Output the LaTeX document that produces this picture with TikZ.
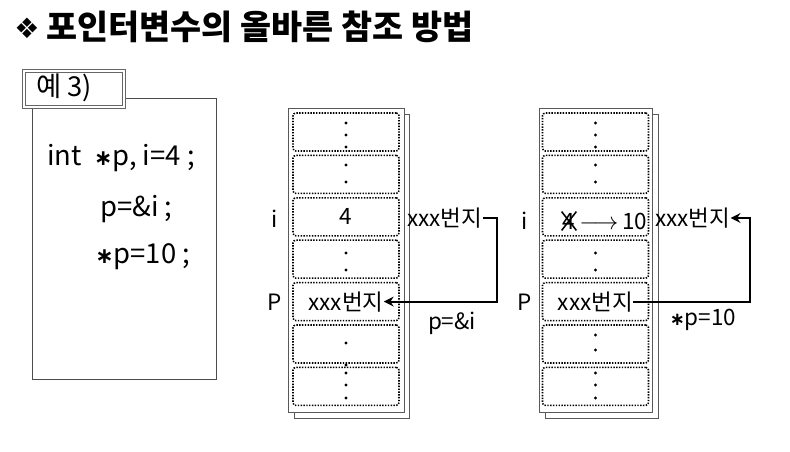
\documentclass[tikz,border=0pt]{standalone}
\usepackage{fontspec}
\setmainfont{Noto Sans CJK KR}
\newfontfamily\symfont{DejaVu Sans}
\usetikzlibrary{arrows.meta}

\tikzset{
  cell/.style={draw,dash pattern=on 1pt off 1pt,line width=1.1pt,rounded corners=2pt,minimum width=2.65cm,minimum height=0.95cm,inner sep=0pt},
  lbl/.style={inner sep=0pt,font=\fontsize{16}{19}\selectfont},
  code/.style={inner sep=0pt,anchor=west,font=\fontsize{19.5}{23}\selectfont},
  mem/.style={draw=black!65,fill=white,line width=0.6pt},
  link/.style={-{Stealth[length=7pt,width=7pt]},line width=1.5pt},
}
\newcommand{\ptrstar}{\scalebox{0.8}{\symfont\bfseries ∗}}

\begin{document}
\begin{tikzpicture}[x=0.025cm,y=-0.025cm]
\useasboundingbox (0,0) rectangle (790,452);
% title
\node[inner sep=0pt,anchor=west] (mark) at (14,28) {\symfont\fontsize{20}{24}\selectfont ❖};
\node[inner sep=0pt,anchor=west,font=\fontsize{24}{28}\selectfont\bfseries] (title) at (46,27) {포인터변수의 올바른 참조 방법};
% code box
\draw[black!70,line width=0.6pt] (32,98) rectangle (216,379);
\node[draw=black!60,line width=0.5pt,double,double distance=1.2pt,fill=white,minimum width=2.5cm,minimum height=0.9cm,inner sep=0pt] (tab) at (74,89) {};
\node[code] (tabtxt) at (36,88) {예 3)};
\node[code] (line1) at (47,158) {int\ \ \ptrstar p, i=4 ;};
\node[code] (line2) at (100,209) {p=\&i ;};
\node[code] (line3) at (95,257) {\ptrstar p=10 ;};
% memory, before
\draw[mem] (294,114) rectangle (409,418);
\draw[mem] (288,108) rectangle (404,412);
\foreach \k in {1,...,7}
  \node[cell] (a\k) at (346,{132+42.4*(\k-1)}) {};
% memory, after
\draw[mem] (545,114) rectangle (658,418);
\draw[mem] (539,108) rectangle (652,412);
\foreach \k in {1,...,7}
  \node[cell] (b\k) at (595.5,{132+42.4*(\k-1)}) {};
% the dots
\foreach \y in {123,135,147,165,182,253,270,343,365,373,385,398}
  \fill (346,\y) circle (1.2pt);
\foreach \y in {123,135,147,165,182,253,270,335,350,373,385,398}
  \fill (595.5,\y) circle (1.2pt);
% cell contents and names
\node[lbl] (ivar1) at (275,219) {i};
\node[lbl] (pvar1) at (275,302) {P};
\node[lbl] (ival1) at (a3) {4};
\node[lbl] (pval1) at (a5) {xxx번지};
\node[lbl,anchor=west] (addr1) at (407,218) {xxx번지};
\node[lbl] (op1) at (452,323) {p=\&i};
\node[lbl] (ivar2) at (525,221) {i};
\node[lbl] (pvar2) at (525,302) {P};
\node[lbl] (old2) at (569,221) {4};
\node[lbl,anchor=west] (new2) at (579,221) {$\longrightarrow$\,10};
\draw[line width=1.1pt,shorten <=-1pt,shorten >=-1pt] (old2.north west) -- (old2.south east);
\draw[line width=1.1pt,shorten <=-1pt,shorten >=-1pt] (old2.north east) -- (old2.south west);
\node[lbl] (pval2) at (b5) {xxx번지};
\node[lbl,anchor=west] (addr2) at (655,218) {xxx번지};
\node[lbl] (op2) at (703,320) {\ptrstar p=10};
% connectors
\coordinate (turn1) at (497,218);
\coordinate (turn2) at (750,218);
\draw[link] (addr1.east) -| (turn1) |- (pval1.east);
\draw[link] (pval2.east) -| (turn2) |- (addr2.east);
\end{tikzpicture}
\end{document}
